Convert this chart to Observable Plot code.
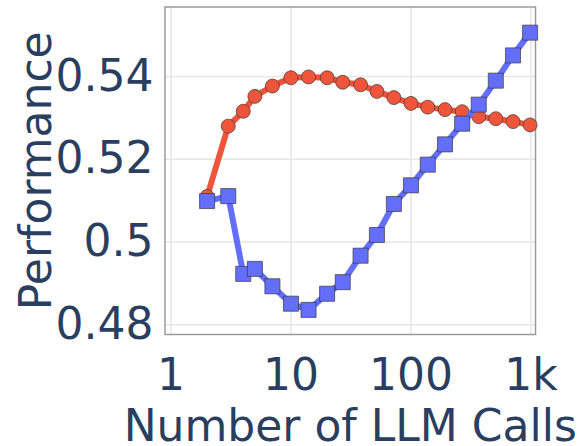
<!DOCTYPE html>
<html>
<head>
<meta charset="utf-8">
<script src="https://cdn.jsdelivr.net/npm/d3@7"></script>
<script src="https://cdn.jsdelivr.net/npm/@observablehq/plot@0.6"></script>
<style>
  html, body { margin: 0; padding: 0; background: #ffffff; }
  #chart svg { display: block; }
</style>
</head>
<body>
<div id="chart"></div>
<script>
// Number of LLM calls (shared by both series)
const calls = [2, 3, 4, 5, 7, 10, 14, 20, 27, 38, 52, 72, 100, 138, 192, 267, 367, 509, 708, 983];

// Performance of each series at those call counts
const redPerf = [0.511, 0.528, 0.5316, 0.5352, 0.5377, 0.5397, 0.5399, 0.5397, 0.5386, 0.538,
                 0.5364, 0.5349, 0.5335, 0.5326, 0.532, 0.5315, 0.5303, 0.5298, 0.5291, 0.5283];
const bluePerf = [0.5099, 0.5111, 0.4923, 0.4935, 0.4893, 0.4851, 0.4836, 0.4875, 0.4903, 0.4967,
                  0.5017, 0.5092, 0.5137, 0.5187, 0.5236, 0.5286, 0.5332, 0.539, 0.5451, 0.5506];

// Axis ticks and their labels
const xTicks = [1, 10, 100, 1000];
const xTickLabels = ["1", "10", "100", "1k"];
const yTicks = [0.48, 0.5, 0.52, 0.54];
const yTickLabels = ["0.48", "0.5", "0.52", "0.54"];

const xTitle = "Number of LLM Calls";
const yTitle = "Performance";

const red = calls.map((c, i) => ({calls: c, perf: redPerf[i]}));
const blue = calls.map((c, i) => ({calls: c, perf: bluePerf[i]}));

const ink = "#2a3f5f";
const font = "DejaVu Sans, Verdana, sans-serif";

const chart = Plot.plot({
  width: 582,
  height: 446,
  marginLeft: 164.5,
  marginRight: 47,
  marginTop: 6.5,
  marginBottom: 112,
  style: {fontFamily: font, background: "#ffffff", overflow: "visible"},
  x: {type: "log", domain: [0.8913, 1090.3]},
  y: {domain: [0.47765, 0.5568]},
  marks: [
    Plot.gridX(xTicks, {stroke: "#e6e6e6", strokeOpacity: 1, strokeWidth: 1.5}),
    Plot.gridY(yTicks, {stroke: "#e6e6e6", strokeOpacity: 1, strokeWidth: 1.5}),
    Plot.frame({stroke: "#9a9a9a", strokeWidth: 1.5}),
    Plot.axisX(xTicks, {
      tickSize: 0, tickPadding: 24, fontSize: 44, color: ink,
      tickFormat: (d) => xTickLabels[xTicks.indexOf(d)], label: null
    }),
    Plot.axisY(yTicks, {
      tickSize: 0, tickPadding: 11.5, fontSize: 44, color: ink,
      tickFormat: (d) => yTickLabels[yTicks.indexOf(d)], label: null
    }),
    Plot.text([xTitle], {frameAnchor: "bottom", lineAnchor: "middle", textAnchor: "middle", dy: 92, fontSize: 44, fill: ink}),
    Plot.text([yTitle], {frameAnchor: "left", lineAnchor: "middle", textAnchor: "middle", dx: -128.5, rotate: -90, fontSize: 44, fill: ink}),
    // red series: line then circles
    Plot.line(red, {x: "calls", y: "perf", stroke: "#ef553b", strokeWidth: 6}),
    Plot.dot(red, {x: "calls", y: "perf", r: 7, fill: "#ef553b", stroke: "#3a3a3a", strokeWidth: 1, strokeOpacity: 0.7}),
    // blue series: line then squares
    Plot.line(blue, {x: "calls", y: "perf", stroke: "#636efa", strokeWidth: 6}),
    Plot.dot(blue, {x: "calls", y: "perf", r: 8.5, symbol: "square", fill: "#636efa", stroke: "#3a3a3a", strokeWidth: 1, strokeOpacity: 0.7})
  ]
});

document.getElementById("chart").append(chart);
</script>
</body>
</html>
